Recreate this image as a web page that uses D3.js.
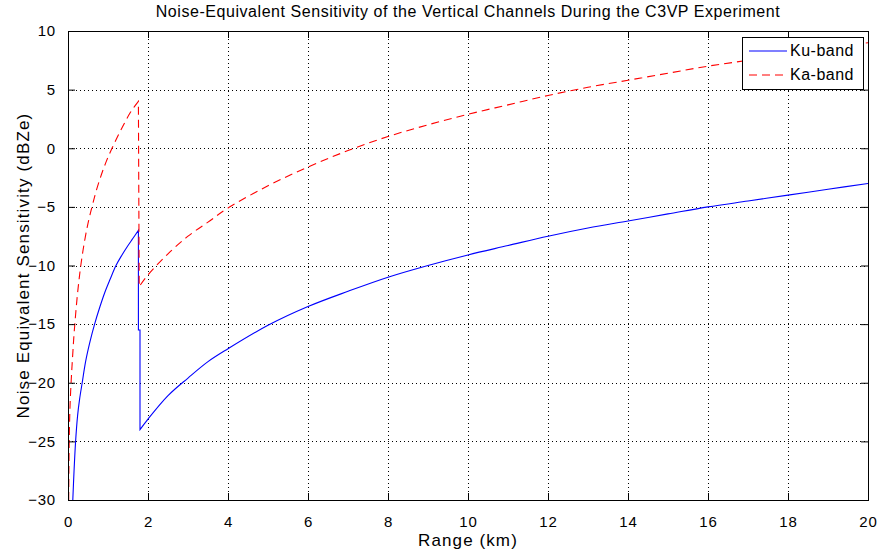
<!DOCTYPE html>
<html>
<head>
<meta charset="utf-8">
<script src="https://cdn.jsdelivr.net/npm/d3@7"></script>
<style>
  body { margin: 0; background: #fff; }
  svg text { font-family: "Liberation Sans", Arial, sans-serif; fill: #000; }
</style>
</head>
<body>
<div id="chart"></div>
<script>
// values, [range km, dBZe]
const kuNear = [[0.12, -30], [0.15, -27.6], [0.19, -25], [0.24, -22.8], [0.29, -21.4], [0.355, -20], [0.44, -18.2], [0.55, -16.5], [0.665, -15], [0.8, -13.5], [0.92, -12.3], [1.05, -11.2], [1.2, -10], [1.35, -9.1], [1.48, -8.4], [1.62, -7.7], [1.76, -7]];
const kuDrop = [[1.76, -7], [1.76, -15.5], [1.8, -15.5], [1.8, -24]];
const kuFar = [[1.8, -24], [2, -23.1], [2.5, -21.1], [3, -19.6], [3.5, -18.2], [4, -17.1], [5, -15.1], [6, -13.5], [7, -12.2], [8, -11.0], [9, -10.0], [10, -9.1], [11, -8.3], [12, -7.5], [13, -6.8], [14, -6.2], [15, -5.6], [16, -5.0], [17, -4.5], [18, -4.0], [19, -3.5], [20, -3.0]];

const kaNear = [[0.017, -30], [0.022, -27.5], [0.03, -25], [0.045, -22.6], [0.06, -21.2], [0.08, -19.8], [0.1, -18.6], [0.125, -17.2], [0.15, -15.9], [0.19, -14.2], [0.235, -12.5], [0.28, -11.1], [0.32, -10], [0.4, -8.2], [0.5, -6.4], [0.6, -5], [0.7, -3.7], [0.84, -2.2], [0.96, -1.1], [1.1, 0], [1.24, 1.0], [1.39, 2], [1.55, 3], [1.66, 3.55], [1.76, 4]];
const kaDrop = [[1.76, 4], [1.78, -11.8]];
const kaFar = [[1.78, -11.8], [2, -10.8], [2.5, -9.0], [3, -7.5], [3.5, -6.3], [4, -5.1], [5, -3.2], [6, -1.6], [7, -0.2], [8, 1.0], [9, 2.0], [10, 2.9], [11, 3.7], [12, 4.5], [13, 5.2], [14, 5.8], [15, 6.4], [16, 7.0], [17, 7.5], [18, 8.0], [19, 8.5], [20, 9.0]];

const xTicks = [0, 2, 4, 6, 8, 10, 12, 14, 16, 18, 20];
const yTicks = [-30, -25, -20, -15, -10, -5, 0, 5, 10];
const series = [
  { name: "Ku-band", color: "#0000ff", dash: null, parts: [kuNear, kuDrop, kuFar] },
  { name: "Ka-band", color: "#ff0000", dash: "8,5", parts: [kaNear, kaDrop, kaFar] },
];

const W = 877, H = 552,
  M = { t: 31, r: 9, b: 52, l: 68 },
  w = W - M.l - M.r,
  h = H - M.t - M.b;

const svg = d3.select("#chart").append("svg").attr("width", W).attr("height", H);
const g = svg.append("g").attr("transform", `translate(${M.l},${M.t})`);

const x = d3.scaleLinear().domain([0, 20]).range([0, w]);
const y = d3.scaleLinear().domain([-30, 10]).range([h, 0]);

// dotted grid
g.append("g").selectAll("line").data(xTicks.slice(1, -1)).enter().append("line")
  .attr("x1", (d) => x(d) + 0.5).attr("x2", (d) => x(d) + 0.5)
  .attr("y1", 0).attr("y2", h)
  .attr("stroke", "#000").attr("stroke-dasharray", "1,3");
g.append("g").selectAll("line").data(yTicks.slice(1, -1)).enter().append("line")
  .attr("y1", (d) => Math.round(y(d)) + 0.5).attr("y2", (d) => Math.round(y(d)) + 0.5)
  .attr("x1", 0).attr("x2", w)
  .attr("stroke", "#000").attr("stroke-dasharray", "1,3");

// curves
svg.append("clipPath").attr("id", "clip").append("rect").attr("width", w).attr("height", h);
const smooth = d3.line().x((d) => x(d[0])).y((d) => y(d[1])).curve(d3.curveCatmullRom.alpha(0.5));
const straight = d3.line().x((d) => x(d[0])).y((d) => y(d[1]));
series.forEach((s) => {
  const p = smooth(s.parts[0]) +
    straight(s.parts[1]).replace(/^M/, "L") +
    smooth(s.parts[2]).replace(/^M/, "L");
  g.append("path")
    .attr("d", p)
    .attr("clip-path", "url(#clip)")
    .attr("fill", "none")
    .attr("stroke", s.color)
    .attr("stroke-width", 1.1)
    .attr("stroke-dasharray", s.dash);
});

// axes: ticks inside on all four sides
const tk = 7;
g.append("g").attr("transform", `translate(0,${h})`)
  .call(d3.axisBottom(x).tickValues(xTicks).tickSize(-tk).tickPadding(tk + 9));
g.append("g").call(d3.axisTop(x).tickValues(xTicks).tickSize(-tk).tickFormat(""));
g.append("g").call(d3.axisLeft(y).tickValues(yTicks).tickSize(-tk).tickPadding(tk + 5));
g.append("g").attr("transform", `translate(${w},0)`)
  .call(d3.axisRight(y).tickValues(yTicks).tickSize(-tk).tickFormat(""));
g.selectAll(".domain").remove();
g.selectAll(".tick line").attr("stroke", "#000");
g.selectAll(".tick text").attr("font-size", "15px").attr("letter-spacing", "0.8px")
  .attr("font-family", "Liberation Sans, Arial, sans-serif").attr("fill", "#000");
g.append("rect").attr("x", 0.5).attr("y", 0.5).attr("width", w).attr("height", h)
  .attr("fill", "none").attr("stroke", "#000");

// legend
const lg = svg.append("g").attr("transform", "translate(742,37)");
lg.append("rect").attr("x", 0.5).attr("y", 0.5).attr("width", 121).attr("height", 52)
  .attr("fill", "#fff").attr("stroke", "#000");
series.forEach((s, i) => {
  const ly = 14 + i * 24;
  lg.append("line").attr("x1", 7).attr("x2", 45).attr("y1", ly).attr("y2", ly)
    .attr("stroke", s.color).attr("stroke-width", 1.1).attr("stroke-dasharray", s.dash);
  lg.append("text").attr("x", 48).attr("y", ly + 5).attr("font-size", "16px")
    .attr("letter-spacing", "0.5px").text(s.name);
});

// titles
svg.append("text").attr("x", M.l + w / 2).attr("y", 17).attr("text-anchor", "middle")
  .attr("font-size", "16px").attr("letter-spacing", "0.55px")
  .text("Noise-Equivalent Sensitivity of the Vertical Channels During the C3VP Experiment");
svg.append("text").attr("x", M.l + w / 2).attr("y", 546).attr("text-anchor", "middle")
  .attr("font-size", "17px").attr("letter-spacing", "1.1px").text("Range (km)");
svg.append("text").attr("transform", `translate(29,${M.t + h / 2}) rotate(-90)`)
  .attr("text-anchor", "middle").attr("font-size", "17px").attr("letter-spacing", "1.15px")
  .text("Noise Equivalent Sensitivity (dBZe)");
</script>
</body>
</html>
